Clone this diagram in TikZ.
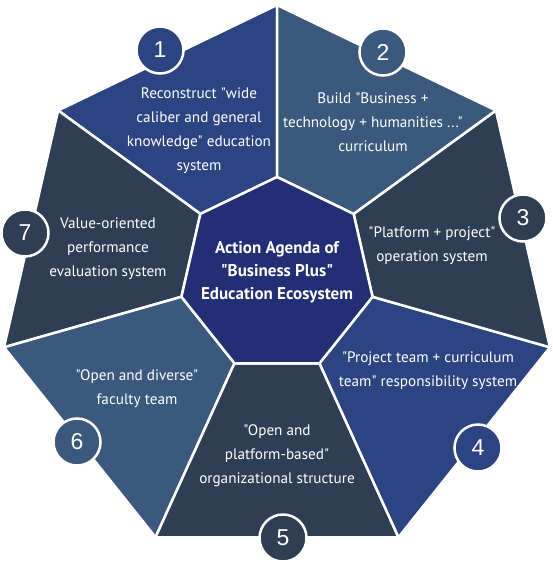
\documentclass[tikz,border=0pt]{standalone}
\usepackage{fontspec}
\setmainfont{PT Sans}[Ligatures=TeXOff]
\newfontfamily\numfont{Liberation Sans}
\usetikzlibrary{positioning}

\definecolor{segblue}{HTML}{2C4482}
\definecolor{segsteel}{HTML}{3A597C}
\definecolor{segslate}{HTML}{2E3E54}
\definecolor{corenavy}{HTML}{232F75}

\tikzset{
  seg/.style={draw=white, line width=2.5pt, line join=round},
  num/.style={circle, draw=white, line width=2.5pt, minimum size=47pt, inner sep=0pt,
    text=white, font=\numfont\fontsize{23}{23}\selectfont},
  txt/.style={align=center, text=white, inner sep=0pt, font=\fontsize{15.2}{24}\selectfont},
  coretxt/.style={align=center, text=white, inner sep=0pt, font=\bfseries\fontsize{17}{23}\selectfont}
}

\begin{document}
\begin{tikzpicture}[x=1pt,y=-1pt]
	\useasboundingbox (0,0) rectangle (553,574);
	\foreach \k in {0,...,6}{
		\coordinate (o\k) at ({277+280*cos(90+\k*360/7)},{285-280*sin(90+\k*360/7)});
		\coordinate (i\k) at ({277+98*cos(90+\k*360/7)},{275-98*sin(90+\k*360/7)});
	}
	
	\filldraw[seg, fill=segblue] (o0) -- (o1) -- (i1) -- (i0) -- cycle;
	\filldraw[seg, fill=segslate] (o1) -- (o2) -- (i2) -- (i1) -- cycle;
	\filldraw[seg, fill=segsteel] (o2) -- (o3) -- (i3) -- (i2) -- cycle;
	\filldraw[seg, fill=segslate] (o3) -- (o4) -- (i4) -- (i3) -- cycle;
	\filldraw[seg, fill=segblue] (o4) -- (o5) -- (i5) -- (i4) -- cycle;
	\filldraw[seg, fill=segslate] (o5) -- (o6) -- (i6) -- (i5) -- cycle;
	\filldraw[seg, fill=segsteel] (o6) -- (o0) -- (i0) -- (i6) -- cycle;
	\filldraw[seg, fill=corenavy] (i0) -- (i1) -- (i2) -- (i3) -- (i4) -- (i5) -- (i6) -- cycle;
	
	\node[num, fill=segblue] (n1) at (160,50) {1};
	\node[num, fill=segsteel] (n2) at (383,52) {2};
	\node[num, fill=segslate] (n3) at (523,218) {3};
	\node[num, fill=segblue] (n4) at (478,448) {4};
	\node[num, fill=segslate] (n5) at (283,538) {5};
	\node[num, fill=segsteel] (n6) at (77,442) {6};
	\node[num, fill=segslate] (n7) at (25,233) {7};
	
	\node[txt] (t1) at (199,131) {Reconstruct "wide\\caliber and general\\knowledge" education\\system};
	\node[txt] (t2) at (373,122) {Build "Business +\\technology + humanities ..."\\curriculum};
	\node[txt] (t3) at (432,246) {"Platform + project"\\operation system};
	\node[txt] (t4) at (428,371) {"Project team + curriculum\\team" responsibility system};
	\node[txt] (t5) at (277,456) {"Open and\\platform-based"\\organizational structure};
	\node[txt] (t6) at (137,389) {"Open and diverse"\\faculty team};
	\node[txt] (t7) at (108,249) {Value-oriented\\performance\\evaluation system};
	\node[coretxt] (core) at (277,272) {Action Agenda of\\"Business Plus"\\Education Ecosystem};
\end{tikzpicture}
\end{document}
